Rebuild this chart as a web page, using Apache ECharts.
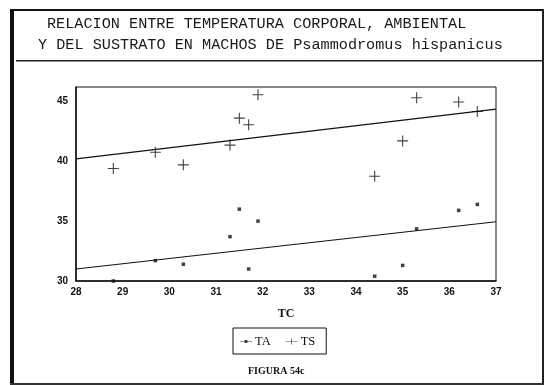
<!DOCTYPE html>
<html>
<head>
<meta charset="utf-8">
<script src="https://cdn.jsdelivr.net/npm/echarts@6/dist/echarts.min.js"></script>
<style>
  html, body { margin: 0; padding: 0; background: #fff; }
  #chart { width: 547px; height: 385px; }
</style>
</head>
<body>
<div id="chart"></div>
<script>
// Body temperature (TC) of each male, with air (TA) and substrate (TS) temperatures
const tc = [28.8, 29.7, 30.3, 31.3, 31.5, 31.7, 31.9, 34.4, 35.0, 35.3, 36.2, 36.6];
const ta = [30.0, 31.7, 31.4, 33.7, 36.0, 31.0, 35.0, 30.4, 31.3, 34.35, 35.9, 36.4];
const ts = [39.4, 40.75, 39.7, 41.35, 43.6, 43.05, 45.55, 38.75, 41.7, 45.3, 44.95, 44.15];

// Fitted lines, given at the two ends of the TC range
const fitX = [28, 37];
const taFit = [31.0, 34.95];
const tsFit = [40.2, 44.35];

const xTicks = [28, 29, 30, 31, 32, 33, 34, 35, 36, 37];
const yTicks = [30, 35, 40, 45];

const titleLines = [
  'RELACION ENTRE TEMPERATURA CORPORAL, AMBIENTAL',
  'Y DEL SUSTRATO EN MACHOS DE Psammodromus hispanicus'
];
const xName = 'TC';
const figureLabel = 'FIGURA 54c';
const seriesNames = ['TA', 'TS'];

const pair = (xs, ys) => xs.map((x, i) => [x, ys[i]]);

const crossPath = 'path://M0,5.4H12V6.6H0Z M5.4,0H6.6V12H5.4Z';
const dotIcon = 'path://M0,4.4H20V5.6H0Z M7.5,2.5H12.5V7.5H7.5Z';
const crossIcon = 'path://M0,4.4H20V5.6H0Z M9.4,0H10.6V10H9.4Z';

const monoTitle = { fontFamily: 'Liberation Mono', fontSize: 15.2, color: '#1a1a1a', fontWeight: 'normal' };

const chart = echarts.init(document.getElementById('chart'), null, { renderer: 'canvas' });
chart.setOption({
  backgroundColor: '#fff',
  animation: false,
  title: [
    { text: titleLines[0], left: 47, top: 16, padding: 0, textStyle: monoTitle },
    { text: titleLines[1], left: 38, top: 37, padding: 0, textStyle: monoTitle }
  ],
  grid: {
    left: 76, right: 51, top: 87, bottom: 104,
    show: true, borderColor: '#111', borderWidth: 1, backgroundColor: 'transparent'
  },
  xAxis: {
    type: 'value', min: xTicks[0], max: xTicks[xTicks.length - 1], interval: 1,
    name: xName, nameLocation: 'middle', nameGap: 27,
    nameTextStyle: { fontFamily: 'Liberation Serif', fontSize: 12, fontWeight: 'bold', color: '#111' },
    axisLine: { show: true, lineStyle: { color: '#111', width: 1.5 } },
    axisTick: { show: false },
    splitLine: { show: false },
    axisLabel: {
      margin: 6, color: '#111', fontFamily: 'Liberation Sans', fontWeight: 'bold', fontSize: 10,
      formatter: v => (xTicks.includes(v) ? String(v) : '')
    }
  },
  yAxis: {
    type: 'value', min: yTicks[0], max: 46.2, interval: 5,
    axisLine: { show: true, lineStyle: { color: '#111', width: 1.5 } },
    axisTick: { show: false },
    splitLine: { show: false },
    axisLabel: {
      margin: 8, color: '#111', fontFamily: 'Liberation Sans', fontWeight: 'bold', fontSize: 10,
      showMaxLabel: false,
      formatter: v => (yTicks.includes(v) ? String(v) : '')
    }
  },
  legend: {
    data: [
      { name: seriesNames[0], icon: dotIcon },
      { name: seriesNames[1], icon: crossIcon }
    ],
    left: 233, top: 328,
    orient: 'horizontal',
    itemWidth: 12, itemHeight: 10, itemGap: 15,
    padding: [7, 11, 6, 7],
    borderColor: '#111', borderWidth: 1,
    textStyle: { fontFamily: 'Liberation Serif', fontSize: 12.5, color: '#111', padding: [0, 0, 0, -2] },
    itemStyle: { color: '#111' },
    selectedMode: false
  },
  series: [
    {
      name: seriesNames[0], type: 'scatter', data: pair(tc, ta),
      symbol: 'rect', symbolSize: 3.5,
      itemStyle: { color: '#111' }
    },
    {
      name: seriesNames[1], type: 'scatter', data: pair(tc, ts),
      symbol: crossPath, symbolSize: 11,
      itemStyle: { color: '#111' }
    },
    {
      name: 'fitTA', type: 'line', data: pair(fitX, taFit),
      symbol: 'none', lineStyle: { color: '#111', width: 1.2 }
    },
    {
      name: 'fitTS', type: 'line', data: pair(fitX, tsFit),
      symbol: 'none', lineStyle: { color: '#111', width: 1.2 }
    }
  ],
  graphic: [
    // page frame
    { type: 'rect', shape: { x: 10, y: 9, width: 4, height: 376 }, style: { fill: '#111' } },
    { type: 'rect', shape: { x: 10, y: 9, width: 534, height: 2 }, style: { fill: '#111' } },
    { type: 'rect', shape: { x: 542, y: 9, width: 2, height: 376 }, style: { fill: '#222' } },
    { type: 'rect', shape: { x: 10, y: 383, width: 534, height: 2 }, style: { fill: '#333' } },
    // rule under the heading
    { type: 'rect', shape: { x: 16, y: 60, width: 526, height: 1.5 }, style: { fill: '#222' } },
    {
      type: 'text', left: 248, top: 366,
      style: { text: figureLabel, font: 'bold 10px "Liberation Serif"', fill: '#111' }
    }
  ]
});
</script>
</body>
</html>
